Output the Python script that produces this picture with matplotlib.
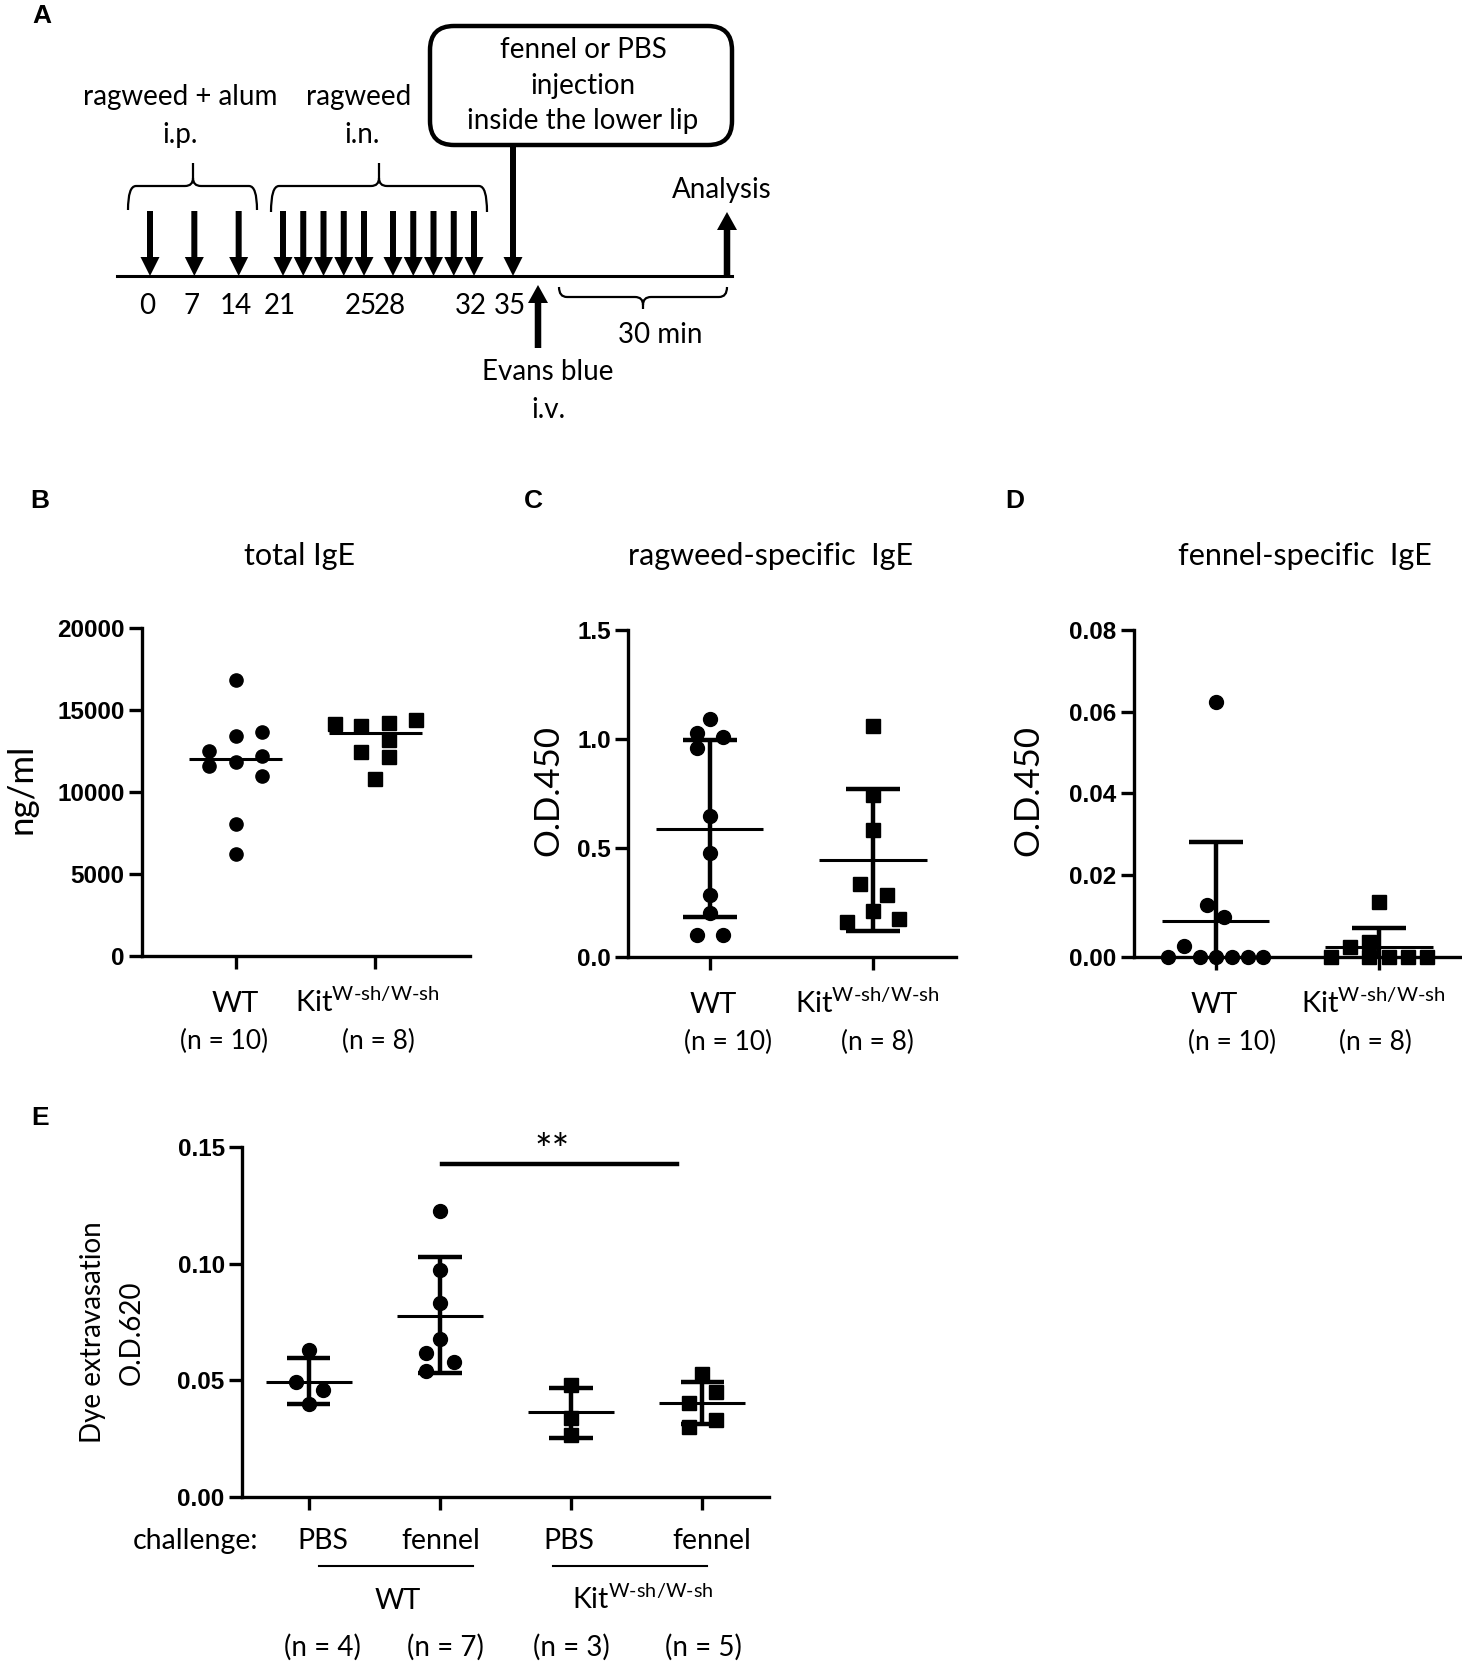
import numpy as np
import matplotlib
matplotlib.use("Agg")
import matplotlib.pyplot as plt
import matplotlib.transforms as mtransforms
from matplotlib.patches import FancyBboxPatch, PathPatch
from matplotlib.path import Path

# ---- data ----
# panel A timeline (days of treatment)
ip_days = [0, 7, 14]
in_days = [21, 22, 23, 24, 25, 28, 29, 30, 31, 32]
challenge_day = 35
day_labels = ["0", "7", "14", "21", "25", "28", "32", "35"]
day_label_days = [0, 7, 14, 21, 25, 28, 32, 35]

# panel B: total IgE (ng/ml), line = median
b_wt = [16850, 12530, 11560, 13390, 13670, 11800, 12170, 10990, 8060, 6190]
b_kit = [14160, 14000, 14200, 14400, 13180, 12450, 12130, 10780]
b_center = [12000, 13590]

# panel C: ragweed-specific IgE (O.D.450), mean +/- SD
c_wt = [1.092, 1.026, 1.011, 0.958, 0.645, 0.477, 0.286, 0.202, 0.102, 0.102]
c_kit = [1.060, 0.744, 0.583, 0.335, 0.286, 0.209, 0.159, 0.174]
c_center = [0.588, 0.445]
c_lo = [0.183, 0.118]
c_hi = [0.996, 0.770]

# panel D: fennel-specific IgE (O.D.450), mean +/- SD
d_wt = [0.0623, 0.0128, 0.0097, 0.0026, 0, 0, 0, 0, 0, 0]
d_kit = [0.0135, 0.0024, 0.0036, 0, 0, 0, 0, 0]
d_center = [0.0087, 0.0024]
d_lo = [-0.0107, -0.0023]
d_hi = [0.0281, 0.0071]

# panel E: dye extravasation (O.D.620), mean +/- SD
e_groups = ["PBS", "fennel", "PBS", "fennel"]
e_n = ["(n = 4)", "(n = 7)", "(n = 3)", "(n = 5)"]
e_vals = [
    [0.0630, 0.0495, 0.0459, 0.0399],
    [0.1225, 0.0972, 0.0833, 0.0677, 0.0616, 0.0577, 0.0542],
    [0.0481, 0.0338, 0.0267],
    [0.0528, 0.0448, 0.0402, 0.0331, 0.0302],
]
e_center = [0.0495, 0.0777, 0.0364, 0.0402]
e_lo = [0.0398, 0.0530, 0.0255, 0.0312]
e_hi = [0.0597, 0.1027, 0.0469, 0.0492]
e_sig = 0.1427

# horizontal scatter of the dots (jitter, in group widths)
b_wt_jit = [0, -0.19, -0.19, 0, 0.19, 0, 0.19, 0.19, 0, 0]
b_kit_jit = [-0.29, -0.1, 0.1, 0.29, 0.1, -0.1, 0.1, 0]
c_wt_jit = [0, -0.08, 0.08, -0.08, 0, 0, 0, 0, -0.08, 0.08]
c_kit_jit = [0, 0, 0, -0.08, 0.085, 0, -0.155, 0.163]
d_wt_jit = [0, -0.053, 0.053, -0.196, -0.29, -0.098, 0, 0.1, 0.2, 0.29]
d_kit_jit = [0, -0.176, -0.057, -0.294, -0.057, 0.061, 0.18, 0.294]
e_jit = [
    [0, -0.1, 0.107, 0],
    [0, 0, 0, 0, -0.104, 0.107, -0.104],
    [0, 0, 0],
    [0, 0.107, -0.104, 0.107, -0.104],
]
e_marker = ["o", "o", "s", "s"]

W, H = 1462, 1661
plt.rcParams["font.family"] = ["Lato", "DejaVu Sans"]
plt.rcParams["mathtext.fontset"] = "custom"
plt.rcParams["mathtext.rm"] = "Lato"
plt.rcParams["mathtext.it"] = "Lato:italic"
plt.rcParams["mathtext.bf"] = "Lato:bold"

fig = plt.figure(figsize=(W / 100, H / 100), dpi=100)
TXT = 20
KIT = r"Kit$^{\text{W-sh/W-sh}}$"


def ftext(x, y, s, **kw):
    kw.setdefault("ha", "center")
    kw.setdefault("va", "center")
    fig.text(x / W, 1 - y / H, s, **kw)


def make_axes(left, top, right, bottom):
    return fig.add_axes([left / W, 1 - bottom / H, (right - left) / W, (bottom - top) / H])


def style(ax, xticks, xlim, yticks, fmt):
    for s in ["top", "right"]:
        ax.spines[s].set_visible(False)
    for s in ["left", "bottom"]:
        ax.spines[s].set_linewidth(2.4)
    ax.tick_params(width=2.4, length=9.5, labelsize=17.5, pad=3)
    ax.set_xticks(xticks)
    ax.set_xticklabels([])
    ax.set_xlim(xlim)
    ax.set_yticks(yticks)
    ax.set_yticklabels([fmt.format(v) for v in yticks],
                       fontfamily="Liberation Sans", fontweight="bold")
    ax.set_ylim(yticks[0], yticks[-1])


def group(ax, x, vals, jit, marker, center, lo=None, hi=None, ms=9.5):
    ax.plot(x + np.array(jit), vals, ls="none", marker=marker, ms=ms,
            color="k", mec="k", clip_on=False, zorder=3)
    ax.hlines(center, x - 0.33, x + 0.33, color="k", lw=2.2, zorder=4)
    if lo is not None:
        ax.vlines(x, lo, hi, color="k", lw=3.2, zorder=4)
        ax.hlines([lo, hi], x - 0.165, x + 0.165, color="k", lw=3.2, zorder=4)


def xlabels(ax, xs, labels, nlabels, nxs, y_lab=-0.17, y_n=-0.26):
    tr = mtransforms.blended_transform_factory(ax.transData, ax.transAxes)
    for x, s in zip(xs, labels):
        ax.text(x, y_lab, s, transform=tr, ha="center", va="baseline", fontsize=21)
    for x, s in zip(nxs, nlabels):
        ax.text(x, y_n, s, transform=tr, ha="center", va="center", fontsize=19)


# ---------------- panel A ----------------
axA = fig.add_axes([0, 1 - 440 / H, 1, 440 / H])
axA.set_xlim(0, W)
axA.set_ylim(440, 0)
axA.axis("off")

# day -> x position on the (non linear) time line
def day_x(d):
    return np.interp(d, [0, 21, 25, 28, 32, 35], [150, 283, 364, 393, 474, 513])

line_y = 276
axA.plot([117, 732], [line_y, line_y], color="k", lw=2.2)
for d in ip_days + in_days:
    axA.arrow(day_x(d), 211, 0, line_y - 211, width=6, head_width=19, head_length=19,
              length_includes_head=True, fc="k", ec="none")
axA.arrow(day_x(challenge_day), 147, 0, line_y - 147, width=6, head_width=19,
          head_length=19, length_includes_head=True, fc="k", ec="none")
axA.arrow(727, line_y, 0, -64, width=6.5, head_width=20, head_length=18,
          length_includes_head=True, fc="k", ec="none")
axA.arrow(538, 348, 0, -63, width=6.5, head_width=20, head_length=18,
          length_includes_head=True, fc="k", ec="none")
for d, s in zip(day_label_days, day_labels):
    axA.text(day_x(d) - 3, 306, s, ha="center", va="center", fontsize=TXT)


def brace(x0, x1, xc, y_end, y_h, y_tip, r=8):
    sgn = 1 if y_h > y_tip else -1
    verts = [(x0, y_end), (x0, y_h), (x0 + r, y_h), (xc - r, y_h), (xc, y_h),
             (xc, y_h - sgn * r), (xc, y_tip), (xc, y_h - sgn * r), (xc, y_h),
             (xc + r, y_h), (x1 - r, y_h), (x1, y_h), (x1, y_end)]
    codes = [Path.MOVETO, Path.CURVE3, Path.CURVE3, Path.LINETO, Path.CURVE3,
             Path.CURVE3, Path.LINETO, Path.MOVETO, Path.CURVE3, Path.CURVE3,
             Path.LINETO, Path.CURVE3, Path.CURVE3]
    axA.add_patch(PathPatch(Path(verts, codes), fc="none", ec="k", lw=1.6))


brace(128, 257, 193, 210, 186, 163)
brace(271, 487, 379, 212, 186, 163)
brace(559, 727, 643, 287, 297, 309)

axA.text(180, 97, "ragweed + alum", ha="center", va="center", fontsize=TXT)
axA.text(180, 135, "i.p.", ha="center", va="center", fontsize=TXT)
axA.text(359, 97, "ragweed", ha="center", va="center", fontsize=TXT)
axA.text(362, 135, "i.n.", ha="center", va="center", fontsize=TXT)
axA.add_patch(FancyBboxPatch((430, 26), 302, 119, boxstyle="round,pad=0,rounding_size=24",
                             fc="white", ec="k", lw=3.2))
axA.text(583, 50, "fennel or PBS", ha="center", va="center", fontsize=TXT)
axA.text(583, 86, "injection", ha="center", va="center", fontsize=TXT)
axA.text(583, 121, "inside the lower lip", ha="center", va="center", fontsize=TXT)
axA.text(722, 190, "Analysis", ha="center", va="center", fontsize=TXT)
axA.text(660, 335, "30 min", ha="center", va="center", fontsize=TXT)
axA.text(548, 372, "Evans blue", ha="center", va="center", fontsize=TXT)
axA.text(548, 410, "i.v.", ha="center", va="center", fontsize=TXT)

# ---------------- panel B ----------------
axB = make_axes(142, 628, 470, 956)
style(axB, [0, 1], (-0.669, 1.676), [0, 5000, 10000, 15000, 20000], "{:d}")
group(axB, 0, b_wt, b_wt_jit, "o", b_center[0])
group(axB, 1, b_kit, b_kit_jit, "s", b_center[1])
xlabels(axB, [0, 0.94], ["WT", KIT], ["(n = 10)", "(n = 8)"], [-0.08, 1.02])

# ---------------- panel C ----------------
axC = make_axes(628, 630, 956, 957)
style(axC, [0, 1], (-0.5, 1.51), [0.0, 0.5, 1.0, 1.5], "{:.1f}")
group(axC, 0, c_wt, c_wt_jit, "o", c_center[0], c_lo[0], c_hi[0], ms=10)
group(axC, 1, c_kit, c_kit_jit, "s", c_center[1], c_lo[1], c_hi[1], ms=9.5)
xlabels(axC, [0.02, 0.965], ["WT", KIT], ["(n = 10)", "(n = 8)"], [0.115, 1.03])

# ---------------- panel D ----------------
axD = make_axes(1134, 630, 1462, 957)
style(axD, [0, 1], (-0.5, 1.51), [0.0, 0.02, 0.04, 0.06, 0.08], "{:.2f}")
group(axD, 0, d_wt, d_wt_jit, "o", d_center[0], d_lo[0], d_hi[0], ms=10)
group(axD, 1, d_kit, d_kit_jit, "s", d_center[1], d_lo[1], d_hi[1], ms=9.5)
xlabels(axD, [-0.01, 0.965], ["WT", KIT], ["(n = 10)", "(n = 8)"], [0.1, 0.98])

# ---------------- panel E ----------------
axE = make_axes(242, 1147, 769, 1497)
style(axE, [0, 1, 2, 3], (-0.51, 3.51), [0.0, 0.05, 0.10, 0.15], "{:.2f}")
for i in range(4):
    group(axE, i, e_vals[i], e_jit[i], e_marker[i], e_center[i], e_lo[i], e_hi[i], ms=10)
axE.plot([1.017, 2.81], [e_sig, e_sig], color="k", lw=3.2, clip_on=False)
axE.text(1.855, e_sig - 0.003, "**", ha="center", va="bottom", fontsize=30)

trE = mtransforms.blended_transform_factory(axE.transData, axE.transAxes)
axE.text(-0.383, -0.127, "challenge:", transform=trE, ha="right", va="center", fontsize=20.5)
for x, s in zip([0.11, 1.01, 1.98, 3.07], e_groups):
    axE.text(x, -0.127, s, transform=trE, ha="center", va="center", fontsize=20.5)
axE.plot([0.074, 1.253], [-0.196, -0.196], transform=trE, color="k", lw=1.5, clip_on=False)
axE.plot([1.863, 3.037], [-0.196, -0.196], transform=trE, color="k", lw=1.5, clip_on=False)
axE.text(0.674, -0.321, "WT", transform=trE, ha="center", va="baseline", fontsize=20.5)
axE.text(2.55, -0.321, KIT, transform=trE, ha="center", va="baseline", fontsize=20.5)
for x, s in zip([0.10, 1.04, 2.0, 3.01], e_n):
    axE.text(x, -0.43, s, transform=trE, ha="center", va="center", fontsize=TXT)

# ---------------- titles, y labels, panel letters ----------------
ftext(299, 556, "total IgE", fontsize=22)
ftext(770, 556, "ragweed-specific  IgE", fontsize=22)
ftext(1305, 556, "fennel-specific  IgE", fontsize=22)
ftext(22, 789, "ng/ml", fontsize=25, rotation=90)
ftext(548, 790, "O.D.450", fontsize=25, rotation=90)
ftext(1028, 790, "O.D.450", fontsize=25, rotation=90)
ftext(93, 1332, "Dye extravasation", fontsize=TXT, rotation=90)
ftext(132, 1333, "O.D.620", fontsize=TXT, rotation=90)

for s, (x, y) in zip("ABCDE", [(42, 16), (40, 501), (533, 501), (1015, 501), (40, 1118)]):
    ftext(x, y, s, fontsize=19, fontweight="bold", fontfamily="Liberation Sans")

fig.savefig("out.png", dpi=100)
